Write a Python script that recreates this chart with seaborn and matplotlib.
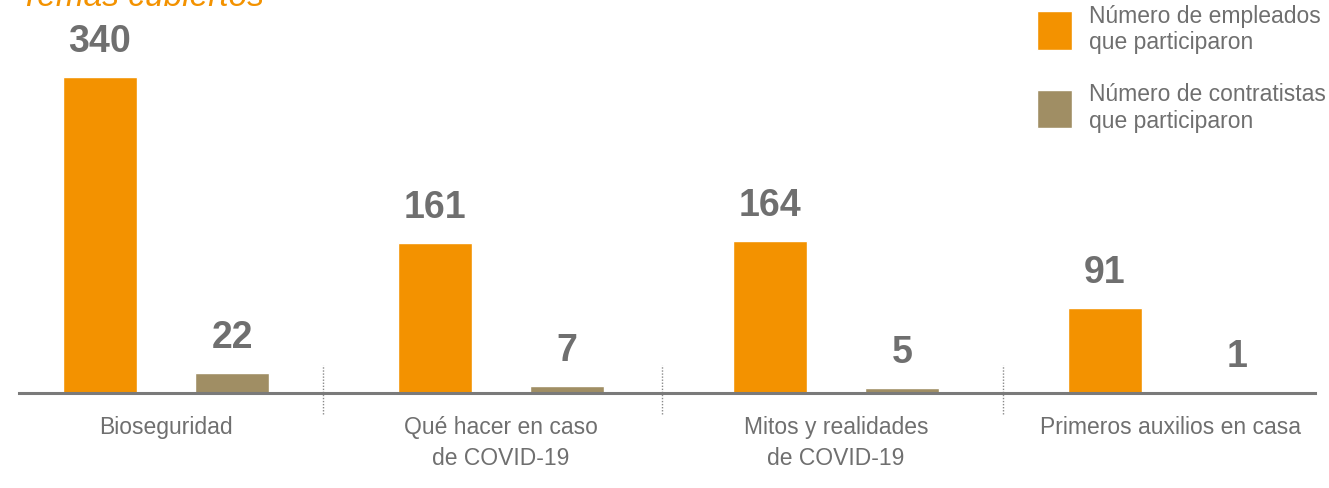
import pandas as pd
import numpy as np
import matplotlib.pyplot as plt
import seaborn as sns
from matplotlib.patches import Patch

sns.set_theme(style='white')
plt.rcParams['font.family'] = ['Liberation Sans Narrow', 'Liberation Sans', 'DejaVu Sans']

# data
temas = ['Bioseguridad', 'Qué hacer en caso\nde COVID-19', 'Mitos y realidades\nde COVID-19', 'Primeros auxilios en casa']
empleados = [340, 161, 164, 91]
contratistas = [22, 7, 5, 1]
series = ['Número de empleados\nque participaron', 'Número de contratistas\nque participaron']
separadores = [0.47, 1.48, 2.5]

naranja = '#F39200'
cafe = '#A08E64'
gris = '#6f6f6f'

df = pd.DataFrame({
    'tema': temas * 2,
    'serie': [series[0]] * 4 + [series[1]] * 4,
    'valor': empleados + contratistas,
})

fig = plt.figure(figsize=(13.29, 4.89), dpi=100)
ax = fig.add_axes([0, 95 / 489, 1, 394 / 489])

sns.barplot(data=df, x='tema', y='valor', hue='serie', palette=[naranja, cafe],
            width=0.79, gap=0.44, saturation=1, legend=False, ax=ax)

for c in ax.containers:
    ax.bar_label(c, padding=13, fontsize=27, fontweight='bold', color=gris,
                 family=['Liberation Sans', 'DejaVu Sans'])

ax.set_xlim(-0.4955, 3.472)
ax.set_ylim(0, 424)
ax.set_xlabel('')
ax.set_ylabel('')
ax.set_yticks([])
for s in ['top', 'left', 'right']:
    ax.spines[s].set_visible(False)
ax.spines['bottom'].set_color('#7a7a7a')
ax.spines['bottom'].set_linewidth(2.2)
ax.spines['bottom'].set_bounds(-0.439, 3.43)
ax.tick_params(axis='x', length=0, pad=16, labelsize=16.5, labelcolor=gris)
for t in ax.get_xticklabels():
    t.set_linespacing(1.45)
    t.set_verticalalignment('top')

for xs in separadores:
    ax.plot([xs, xs], [-23, 30], color='#8a8a8a', lw=1, ls=(0, (1, 1.2)), clip_on=False)

handles = [Patch(facecolor=naranja), Patch(facecolor=cafe)]
leg = ax.legend(handles, series, loc='upper left', bbox_to_anchor=(1016 / 1329, 1.04),
                frameon=False, fontsize=16.5, labelcolor=gris, handlelength=1.55,
                handleheight=2.2, handletextpad=0.75, labelspacing=1.25)

fig.text(20 / 1329, 1 - 6 / 489, 'Temas cubiertos', color=naranja, fontsize=24,
         style='italic', va='baseline', ha='left')

fig.savefig('out.png', dpi=100)
